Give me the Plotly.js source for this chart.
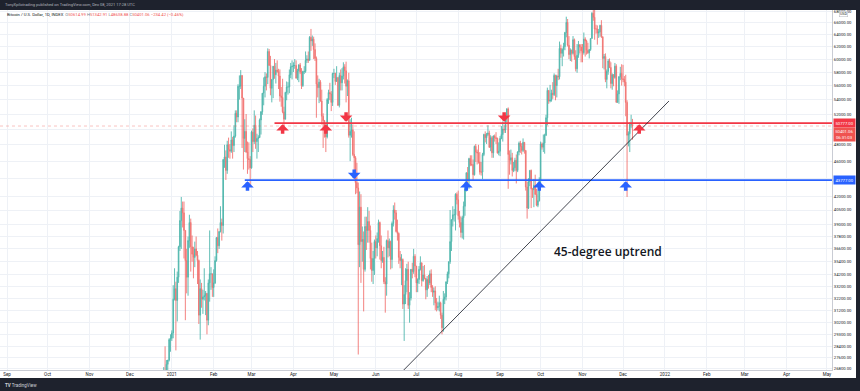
<!DOCTYPE html>
<html><head><meta charset="utf-8">
<script src="https://cdn.plot.ly/plotly-3.0.1.min.js"></script>
<style>html,body{margin:0;padding:0;background:#fff;overflow:hidden}#chart{width:860px;height:391px}</style>
</head><body><div id="chart"></div>
<script>
// Daily candles: each row is [close, high, low] in thousand USD
const dec20 = [[23.7,23.8,22.7],[24.7,24.8,23.4],[26.4,26.9,24.5],[26.3,28.4,25.9],[27.1,27.4,26.1],[27.4,27.4,25.9],[28.9,29.0,27.3],[29.0,29.3,28.0]];
const jan21 = [[29.4,29.6,28.8],[32.1,33.3,29.0],[33.0,34.8,32.0],[32.0,33.6,28.1],[34.0,34.5,30.3],[36.8,36.9,33.5],[39.4,40.4,36.4],[40.7,41.9,36.6],[40.2,41.4,38.7],[38.4,41.4,35.7],
 [35.5,38.4,30.4],[34.0,36.6,32.6],[37.4,37.8,32.4],[39.2,40.0,36.7],[36.8,39.6,34.5],[36.1,37.9,35.4],[35.8,36.8,33.9],[36.6,37.3,34.9],[36.0,37.8,35.9],[35.5,36.4,33.4],
 [30.8,35.6,30.1],[33.0,33.8,28.9],[32.1,33.5,31.4],[32.3,32.9,30.9],[32.4,34.8,32.0],[32.6,32.8,30.8],[30.4,32.6,29.3],[33.5,33.8,30.0],[34.3,38.4,31.9],[34.3,34.9,32.9],[33.1,34.3,32.3]];
const feb21 = [[33.5,34.7,32.3],[35.5,35.9,33.4],[37.7,37.7,35.4],[36.9,38.6,36.2],[38.3,38.3,36.6],[39.2,40.9,38.2],[38.9,39.6,37.4],[46.2,46.2,38.1],[46.5,48.0,45.2],[44.9,47.3,43.8],
 [48.0,48.5,44.5],[47.4,48.9,46.4],[47.2,48.1,46.3],[48.6,49.7,47.0],[47.9,49.0,46.3],[49.1,50.5,47.1],[52.1,52.5,48.9],[51.6,52.5,50.9],[55.9,56.2,50.9],[55.9,57.5,54.0],
 [57.5,58.3,55.5],[54.2,57.5,47.6],[48.8,54.2,45.0],[49.7,51.3,47.1],[47.1,52.0,47.0],[46.3,48.4,44.5],[46.2,48.3,45.0],[45.2,46.6,43.1]];
const mar21 = [[49.6,49.8,45.1],[48.4,50.1,47.1],[50.5,52.5,48.1],[48.4,51.8,47.5],[48.8,49.4,46.3],[48.9,49.2,47.1],[51.2,51.4,48.9],[52.3,52.4,49.3],[54.9,54.9,51.9],[55.9,57.2,53.2],
 [57.3,58.0,54.3],[57.2,57.8,55.3],[61.2,61.7,56.2],[59.0,61.6,59.0],[55.6,60.5,54.6],[56.9,56.9,53.6],[58.9,58.9,54.2],[57.6,60.0,57.0],[58.3,59.4,56.3],[58.1,59.8,57.9],
 [57.4,58.5,55.5],[54.5,58.4,53.7],[54.3,55.8,53.0],[52.3,57.0,52.1],[51.3,53.0,50.4],[55.0,55.1,51.3],[55.8,56.6,53.9],[55.8,56.5,54.7],[57.6,58.4,54.9],[58.8,59.4,57.1],[58.9,59.8,56.9]];
const apr21 = [[59.0,59.5,58.0],[59.0,60.0,58.5],[57.1,59.8,57.0],[58.2,58.5,56.8],[59.1,59.2,56.5],[58.0,59.4,57.7],[56.0,58.6,55.5],[58.1,58.2,55.8],[58.1,58.9,57.7],[59.8,61.2,57.9],
 [60.0,60.6,59.4],[59.8,61.2,59.4],[63.5,63.7,59.8],[62.9,64.9,61.3],[63.2,63.8,62.1],[61.5,63.6,60.0],[60.1,62.5,59.7],[56.2,60.4,51.5],[55.7,57.5,54.3],[56.5,57.0,53.5],
 [53.8,56.8,53.7],[51.7,55.4,50.6],[51.1,52.1,47.6],[50.1,51.2,48.9],[49.0,50.6,47.1],[54.0,54.2,48.8],[55.0,55.4,53.4],[54.8,56.4,53.9],[53.6,55.2,52.4],[57.8,57.9,53.1]];
const may21 = [[57.8,58.5,57.1],[56.6,57.9,56.1],[57.2,58.9,56.6],[53.2,57.2,53.1],[57.5,57.9,52.9],[56.4,58.4,55.3],[57.4,58.6,55.3],[58.8,59.5,56.9],[58.2,59.2,56.3],[55.9,59.6,53.6],
 [56.7,56.9,54.5],[49.2,57.9,48.9],[49.7,51.3,46.0],[49.9,51.5,48.9],[46.8,50.6,46.6],[46.4,49.7,43.9],[43.5,46.6,42.2],[42.9,45.8,42.3],[37.0,43.5,27.8],[40.8,42.5,34.9],
 [37.3,42.2,33.5],[37.5,38.8,35.4],[34.7,38.3,31.1],[38.8,39.8,34.5],[38.4,39.8,36.5],[39.3,40.8,37.2],[38.4,40.4,37.2],[35.7,38.9,34.7],[34.6,37.2,33.6],[35.7,36.4,33.4],[37.3,37.5,34.2]];
const jun21 = [[36.7,37.9,35.7],[37.6,38.2,35.9],[39.2,39.5,37.2],[36.9,39.3,35.6],[35.5,37.9,34.8],[35.8,36.4,35.3],[33.6,36.8,33.4],[33.4,34.0,31.0],[37.4,37.5,32.4],[36.7,38.4,35.8],
 [37.3,37.6,35.9],[35.6,37.4,34.7],[39.1,39.3,34.8],[40.5,41.0,38.8],[40.2,41.3,39.5],[38.3,40.5,38.2],[38.1,39.5,37.4],[35.8,38.2,35.2],[35.5,36.4,34.8],[35.6,36.1,33.3],
 [31.7,35.7,31.3],[32.5,33.3,28.8],[33.7,34.8,31.7],[34.7,35.2,32.7],[31.6,35.4,31.3],[32.2,32.7,30.2],[34.7,34.7,32.0],[34.5,35.3,33.9],[35.9,36.6,34.3],[35.0,36.1,34.0]];
const jul21 = [[33.5,35.0,32.7],[33.8,33.9,32.7],[34.7,35.0,33.4],[35.3,35.9,34.6],[33.7,35.3,33.2],[34.2,35.0,33.6],[33.9,35.1,33.8],[32.9,33.9,32.1],[33.8,34.1,32.3],[33.5,34.2,33.0],
 [34.3,34.6,33.3],[33.1,34.7,32.7],[32.7,33.3,32.3],[32.8,33.1,31.6],[31.8,33.2,31.2],[31.4,32.2,31.1],[31.5,31.9,31.2],[31.8,32.4,31.1],[30.8,31.9,30.5],[29.8,31.0,29.3],
 [32.1,32.8,29.5],[32.3,32.6,31.7],[33.6,33.6,32.0],[34.3,34.5,33.4],[35.4,35.4,33.9],[37.3,40.5,35.2],[39.5,39.5,36.4],[40.0,40.9,38.8],[40.0,40.6,39.3],[42.2,42.3,38.4],[41.6,42.4,41.1]];
const aug21 = [[39.9,42.6,39.5],[39.2,40.4,38.7],[38.2,39.8,37.7],[39.7,39.9,37.6],[40.9,41.4,37.5],[42.8,43.0,39.9],[44.6,44.7,42.5],[43.8,45.3,43.3],[46.3,46.4,42.8],[45.6,46.7,45.4],
 [45.6,46.7,45.4],[44.4,46.2,43.8],[47.8,47.9,44.3],[47.1,48.1,45.9],[47.0,47.4,45.6],[45.9,48.0,45.7],[44.7,47.1,44.4],[44.7,45.9,44.3],[46.8,47.0,43.9],[49.3,49.4,46.6],
 [48.9,49.7,48.3],[49.3,49.5,48.1],[49.5,50.5,49.1],[47.7,49.8,47.6],[48.9,49.2,47.2],[47.0,49.1,46.4],[49.1,49.2,46.4],[48.9,49.3,48.4],[48.8,49.6,48.1],[47.0,48.9,46.9],[47.2,48.3,46.7]];
const sep21 = [[48.8,49.1,46.6],[49.3,50.4,48.7],[50.0,51.0,48.4],[49.9,50.5,49.5],[51.8,51.9,49.5],[52.7,52.8,50.9],[46.8,52.9,42.8],[46.1,47.3,44.4],[46.4,47.4,45.6],[44.9,47.0,44.2],
 [45.2,45.9,44.7],[46.1,46.4,44.8],[44.9,46.8,43.4],[47.1,47.2,44.7],[48.2,48.4,46.7],[47.8,48.5,47.0],[47.3,48.2,46.8],[48.3,48.8,47.1],[47.3,48.3,46.9],[43.0,47.3,42.6],
 [40.7,43.6,39.6],[43.6,44.0,40.6],[44.9,44.9,43.1],[42.8,45.0,40.7],[42.7,42.9,41.8],[43.2,43.9,40.8],[42.2,44.4,42.1],[41.0,42.8,40.9],[41.5,42.6,40.8],[43.8,44.1,41.4]];
const oct21 = [[48.1,48.4,43.3],[47.7,48.3,47.4],[48.2,49.3,47.1],[49.2,49.4,46.9],[51.5,51.9,49.1],[55.3,55.7,50.5],[53.8,55.3,53.4],[53.9,56.1,53.6],[54.9,55.4,53.7],[54.7,56.5,54.1],
 [57.5,57.8,54.5],[56.0,57.6,53.9],[57.4,57.6,54.3],[57.3,58.5,56.8],[61.7,62.8,56.9],[60.9,62.3,60.2],[61.5,61.7,58.9],[62.0,62.6,60.4],[64.3,64.4,61.4],[66.0,67.0,63.5],
 [62.2,66.6,62.0],[60.7,63.7,60.0],[61.4,61.7,59.7],[60.9,61.5,59.6],[63.1,63.7,60.7],[60.4,63.3,59.9],[58.5,61.4,58.1],[60.6,62.4,57.9],[62.3,62.9,60.2],[61.9,62.3,60.9],[61.3,62.4,59.5]];
const nov21 = [[61.0,62.4,59.5],[63.2,64.3,60.7],[62.9,63.5,60.4],[61.4,63.1,60.7],[61.0,62.6,60.8],[61.5,61.6,60.1],[63.3,63.3,61.3],[67.6,67.8,63.3],[66.9,68.5,66.3],[64.9,69.0,63.1],
 [64.9,65.6,64.1],[64.2,65.5,62.3],[64.4,64.9,63.4],[65.5,65.6,63.6],[63.6,66.4,63.4],[60.1,63.6,58.6],[60.4,60.8,58.4],[56.9,60.9,56.5],[58.1,58.4,55.6],[59.7,60.0,57.6],
 [58.7,60.1,58.6],[56.3,59.5,55.6],[57.6,57.8,55.4],[57.2,57.7,55.9],[58.9,59.4,57.0],[53.6,59.2,53.6],[54.8,55.3,53.6],[57.3,57.4,53.4],[57.8,58.8,56.8],[57.0,59.2,56.0]];
const dec21 = [[56.9,59.1,56.5],[56.5,57.4,55.9],[53.6,57.6,51.7],[49.2,53.9,41.9],[49.4,49.7,47.8],[50.6,50.9,47.1],[50.61499,51.9,50.1],[50.40106,51.34291,48.63888]];
const firstOpen = 23.5;          // open of the first candle (thousand USD)
const firstDay = [2020, 11, 24]; // 2020-12-24

// Axis ticks
const monthTicks = ['2020-09-01','2020-10-01','2020-11-01','2020-12-01','2021-01-01','2021-02-01','2021-03-01','2021-04-01','2021-05-01','2021-06-01','2021-07-01','2021-08-01','2021-09-01','2021-10-01','2021-11-01','2021-12-01','2022-01-01','2022-02-01','2022-03-01','2022-04-01','2022-05-01'];
const monthLabels = ['Sep','Oct','Nov','Dec','2021','Feb','Mar','Apr','May','Jun','Jul','Aug','Sep','Oct','Nov','Dec','2022','Feb','Mar','Apr','May'];
const priceTicks = [68000,66000,64000,62000,60000,58000,56000,54000,52000,50000,48000,46000,44000,42000,40500,39000,37800,36600,35400,34200,33200,32200,31200,30200,29300,28400,27600,26800];
const hiddenTickLabels = [50000, 44000]; // covered by the price boxes in the reference

// Drawings
const resistance = 50777, resistanceFrom = '2021-03-18';
const support = 43777, supportFrom = '2021-02-24';
const lastPrice = 50401.06, countdown = '06:31:03';
const trendDates = ['2021-06-18','2022-01-04'];
const trendPrices = [26350, 53790];
const redUpMarks = [['2021-03-24',50640],['2021-04-25',50640],['2021-12-13',50640]];
const redDownMarks = [['2021-05-10',50950],['2021-09-04',50950]];
const blueUpMarks = [['2021-02-26',43650],['2021-08-07',43650],['2021-09-30',43650],['2021-12-03',43650]];
const blueDownMarks = [['2021-05-16',43900]];

const xRange = ['2020-08-26 19:00','2022-05-04 17:00'];
const yRange = [Math.log10(26700), Math.log10(68180)];

const rows = [].concat(dec20,jan21,feb21,mar21,apr21,may21,jun21,jul21,aug21,sep21,oct21,nov21,dec21);
const dates = rows.map((r,i)=> new Date(Date.UTC(firstDay[0], firstDay[1], firstDay[2]+i)).toISOString().slice(0,10));
const close = rows.map(r=>r[0]*1000);
const high = rows.map(r=>r[1]*1000);
const low = rows.map(r=>r[2]*1000);
const open = rows.map((r,i)=> (i===0 ? firstOpen : rows[i-1][0])*1000);

const UP='#26a69a', DOWN='#ef5350', RED='#f23645', BLUE='#2962ff';

const traces = [
  {type:'scatter', mode:'lines', x:[xRange[0], xRange[1]], y:[lastPrice,lastPrice], line:{color:'rgba(239,83,80,0.35)', width:1, dash:'dot'}, hoverinfo:'skip'},
  {type:'candlestick', x:dates, open:open, high:high, low:low, close:close, opacity:0.8,
   increasing:{line:{color:UP,width:0.9}, fillcolor:UP},
   decreasing:{line:{color:DOWN,width:0.9}, fillcolor:DOWN},
   whiskerwidth:0, hoverinfo:'skip'},
  {type:'scatter', mode:'lines', x:[resistanceFrom, xRange[1]], y:[resistance,resistance], line:{color:RED,width:1.6}, hoverinfo:'skip'},
  {type:'scatter', mode:'lines', x:[supportFrom, xRange[1]], y:[support,support], line:{color:BLUE,width:1.6}, hoverinfo:'skip'},
  {type:'scatter', mode:'lines', x:trendDates, y:trendPrices, line:{color:'#131722',width:0.8}, hoverinfo:'skip'}
];

function mark(p, dir, color){
  return {x:p[0], y:Math.log10(p[1]), xref:'x', yref:'y', text:'', showarrow:true,
    arrowhead:1, arrowsize:0.6, arrowwidth:3.5, arrowcolor:color, ax:0, ay:(dir==='up'?11:-11), standoff:0};
}
const pyPaper = px => (370-px)/360;   // helper for header/footer text rows
const annotations = [
  ...redUpMarks.map(p=>mark(p,'up',RED)),
  ...redDownMarks.map(p=>mark(p,'down',RED)),
  ...blueUpMarks.map(p=>mark(p,'up',BLUE)),
  ...blueDownMarks.map(p=>mark(p,'down',BLUE)),
  {xref:'paper', yref:'paper', x:608/832, y:pyPaper(251), xanchor:'center', yanchor:'middle', text:'45-degree uptrend', showarrow:false,
   font:{family:'Open Sans, sans-serif', size:12, weight:600, color:'#131722'}},
  {xref:'paper', yref:'paper', x:3/832, y:pyPaper(4), xanchor:'left', yanchor:'middle', showarrow:false,
   text:'TonyXpilotrading published on TradingView.com, Dec 08, 2021 17:28 UTC', font:{size:4, color:'#b2b5be'}},
  {xref:'paper', yref:'paper', x:5/832, y:pyPaper(15), xanchor:'left', yanchor:'middle', showarrow:false,
   text:'Bitcoin / U.S. Dollar, 1D, INDEX  <span style="color:#787b86">O</span><span style="color:#ef5350">50614.99</span> <span style="color:#787b86">H</span><span style="color:#ef5350">51342.91</span> <span style="color:#787b86">L</span><span style="color:#ef5350">48638.88</span> <span style="color:#787b86">C</span><span style="color:#ef5350">50401.06 −234.42 (−0.46%)</span>',
   font:{size:4.2, color:'#131722'}},
  {xref:'paper', yref:'paper', x:3/832, y:pyPaper(385), xanchor:'left', yanchor:'middle', showarrow:false,
   text:'<b>TV</b> TradingView', font:{size:4.5, color:'#d1d4dc'}},
  {xref:'paper', yref:'paper', x:1, y:1, xanchor:'left', yanchor:'top', xshift:7, yshift:-1, showarrow:false,
   text:'USD', font:{size:3.6,color:'#131722'}, bgcolor:'#ffffff', bordercolor:'#b2b5be', borderwidth:0.5, borderpad:0.5},
  {xref:'paper', yref:'y', x:1, y:Math.log10(resistance), xanchor:'left', yanchor:'middle', xshift:1, showarrow:false,
   text:resistance.toFixed(2), font:{size:4.2,color:'#ffffff'}, bgcolor:RED, borderpad:1.5},
  {xref:'paper', yref:'y', x:1, y:Math.log10(resistance), xanchor:'left', yanchor:'top', xshift:1, yshift:-4.3, showarrow:false,
   text:lastPrice.toFixed(2)+'<br>'+countdown, font:{size:4.2,color:'#ffffff'}, bgcolor:DOWN, borderpad:1.2},
  {xref:'paper', yref:'y', x:1, y:Math.log10(support), xanchor:'left', yanchor:'middle', xshift:1, showarrow:false,
   text:support.toFixed(2), font:{size:4.2,color:'#ffffff'}, bgcolor:BLUE, borderpad:1.5}
];

const shapes = [
  {type:'rect', xref:'paper', yref:'paper', x0:-0.01, x1:1.04, y0:1, y1:1+10/360, fillcolor:'#1e222d', line:{width:0}, layer:'above'},
  {type:'rect', xref:'paper', yref:'paper', x0:-0.01, x1:1.04, y0:-21/360, y1:-8/360, fillcolor:'#1e222d', line:{width:0}, layer:'above'},
  {type:'rect', xref:'paper', yref:'paper', x0:856/832, x1:1.04, y0:-21/360, y1:1+10/360, fillcolor:'#1e222d', line:{width:0}, layer:'above'}
];

const layout = {
  width:860, height:391, margin:{l:0,r:28,t:10,b:21,pad:0},
  paper_bgcolor:'#ffffff', plot_bgcolor:'#ffffff', showlegend:false,
  font:{family:'Roboto, sans-serif', size:4.5, color:'#131722'},
  xaxis:{type:'date', range:xRange, tickmode:'array', tickvals:monthTicks, ticktext:monthLabels,
    showgrid:true, gridcolor:'#eef1f6', gridwidth:1, zeroline:false, showline:true, linecolor:'#c9ccd4', linewidth:1,
    ticks:'', tickfont:{size:4.5,color:'#131722'}, rangeslider:{visible:false}, fixedrange:true},
  yaxis:{type:'log', side:'right', range:yRange, tickmode:'array', tickvals:priceTicks,
    ticktext:priceTicks.map(v=> hiddenTickLabels.includes(v) ? '' : v.toFixed(2)),
    showgrid:true, gridcolor:'#eef1f6', gridwidth:1, zeroline:false, showline:true, linecolor:'#c9ccd4', linewidth:1,
    ticks:'', tickfont:{size:4.2,color:'#131722'}, fixedrange:true},
  shapes:shapes, annotations:annotations
};

Plotly.newPlot('chart', traces, layout, {staticPlot:true, displayModeBar:false});
</script></body></html>
